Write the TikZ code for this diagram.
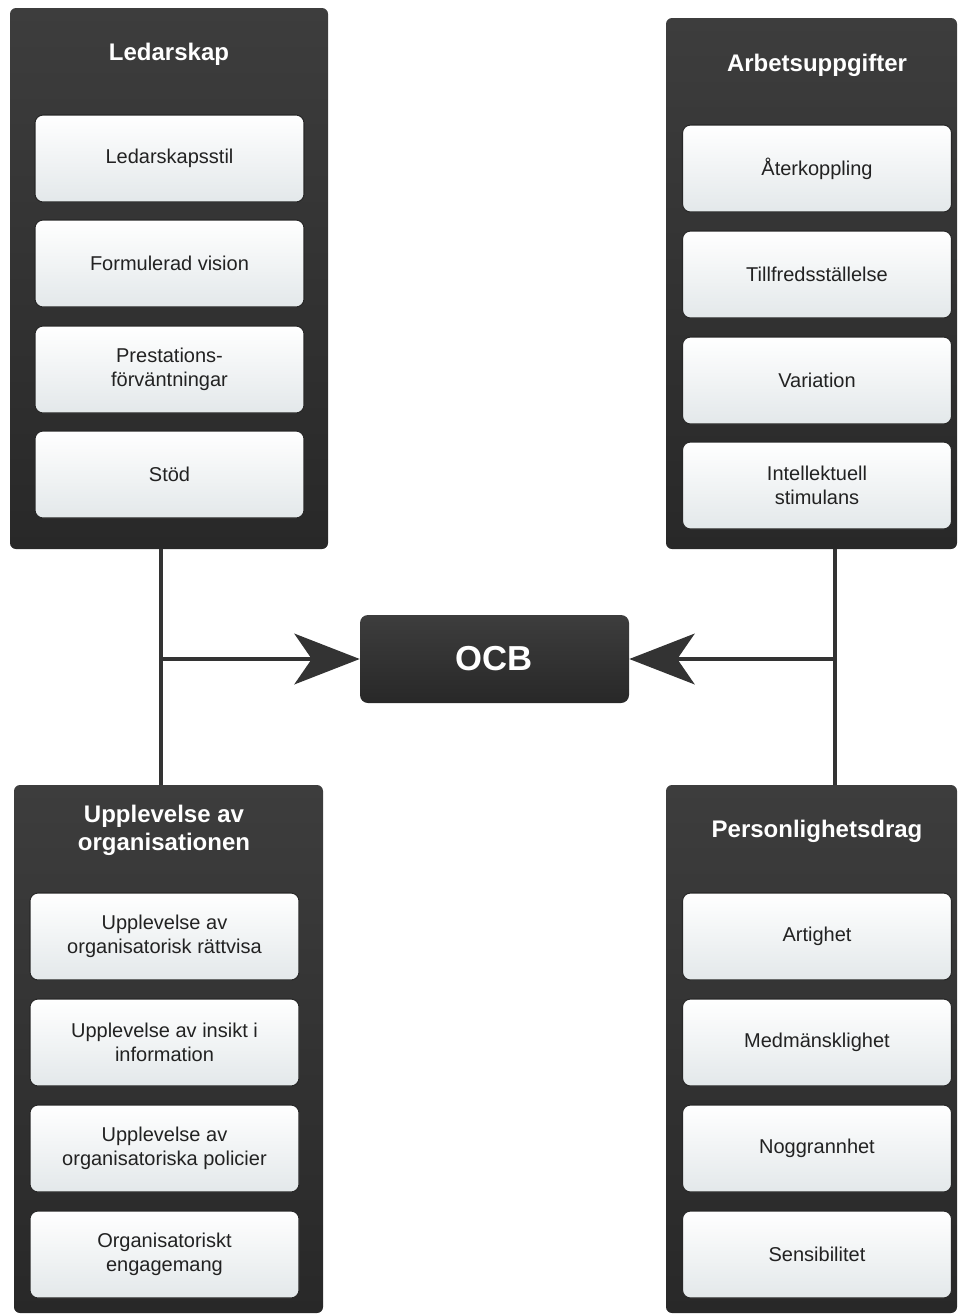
\documentclass[tikz,border=0pt]{standalone}
\usepackage{fontspec}
\setmainfont{Liberation Sans}
\usepackage{tikz}
\usetikzlibrary{arrows.meta, positioning}
\definecolor{ocbdark}{HTML}{333333}
\definecolor{ocbdarktop}{HTML}{3D3D3D}
\definecolor{ocbdarkbot}{HTML}{282828}
\definecolor{ocbtext}{HTML}{222222}
\definecolor{ocbpale}{HTML}{E3E8EA}
\newdimen\pxu
\pxu=0.75pt

\begin{document}
\begin{tikzpicture}[
        x=0.75pt, y=-0.75pt,
        every node/.style={align=center, anchor=center},
        panel/.style={rectangle, rounded corners=6\pxu, draw=none,
                      top color=ocbdarktop, bottom color=ocbdarkbot},
        ptitle/.style={text=white, font=\fontsize{18}{21}\selectfont\bfseries},
        item/.style={rectangle, rounded corners=8\pxu, draw=ocbdarkbot, line width=0.8pt,
                     top color=white, bottom color=ocbpale, text=ocbtext,
                     font=\fontsize{15}{18}\selectfont,
                     minimum width=269\pxu, minimum height=87\pxu, inner sep=2pt},
        ocbbox/.style={rectangle, rounded corners=8\pxu, draw=none,
                       top color=ocbdarktop, bottom color=ocbdarkbot, text=white,
                       font=\fontsize{26}{29}\selectfont\bfseries,
                       minimum width=269\pxu, minimum height=88\pxu},
        link/.style={draw=ocbdark, line width=3pt},
        arr/.style={link, -{Stealth[length=49pt, width=38pt, inset=13pt]}}
    ]
        \useasboundingbox (0,0) rectangle (957,1314);

        % panels
        \node[panel, minimum width=318\pxu, minimum height=541\pxu] (lead) at (169,278.5) {};
        \node[panel, minimum width=291\pxu, minimum height=531\pxu] (arb)  at (811.5,283.5) {};
        \node[panel, minimum width=309\pxu, minimum height=528\pxu] (upp)  at (168.5,1049) {};
        \node[panel, minimum width=291\pxu, minimum height=528\pxu] (pers) at (811.5,1049) {};

        % titles
        \node[ptitle] (leadtitle) at (169,54)  {Ledarskap};
        \node[ptitle] (arbtitle)  at (817,65)  {Arbetsuppgifter};
        \node[ptitle] (upptitle)  at (164,830) {Upplevelse av\\organisationen};
        \node[ptitle] (perstitle) at (817,831) {Personlighetsdrag};

        % Ledarskap
        \node[item] (lead1) at (169.5,158.5) {Ledarskapsstil};
        \node[item] (lead2) at (169.5,263.5) {Formulerad vision};
        \node[item] (lead3) at (169.5,369.5) {Prestations-\\förväntningar};
        \node[item] (lead4) at (169.5,474.5) {Stöd};

        % Arbetsuppgifter
        \node[item] (arb1) at (817,168.5) {Återkoppling};
        \node[item] (arb2) at (817,274.5) {Tillfredsställelse};
        \node[item] (arb3) at (817,380.5) {Variation};
        \node[item] (arb4) at (817,485.5) {Intellektuell\\stimulans};

        % Upplevelse av organisationen
        \node[item] (upp1) at (164.5,936.5)  {Upplevelse av\\organisatorisk rättvisa};
        \node[item] (upp2) at (164.5,1042.5) {Upplevelse av insikt i\\information};
        \node[item] (upp3) at (164.5,1148.5) {Upplevelse av\\organisatoriska policier};
        \node[item] (upp4) at (164.5,1254.5) {Organisatoriskt\\engagemang};

        % Personlighetsdrag
        \node[item] (pers1) at (817,936.5)  {Artighet};
        \node[item] (pers2) at (817,1042.5) {Medmänsklighet};
        \node[item] (pers3) at (817,1148.5) {Noggrannhet};
        \node[item] (pers4) at (817,1254.5) {Sensibilitet};

        % centre
        \node[ocbbox] (ocb) at (494.5,659) {OCB};

        % connectors
        \coordinate (jl) at (161,659);
        \coordinate (jr) at (835,659);
        \draw[link] (jl |- lead.south) -- (jl |- upp.north);
        \draw[link] (jr |- arb.south) -- (jr |- pers.north);
        \draw[arr] (jl) -- (ocb.west);
        \draw[arr] (jr) -- (ocb.east);
    \end{tikzpicture}
\end{document}
